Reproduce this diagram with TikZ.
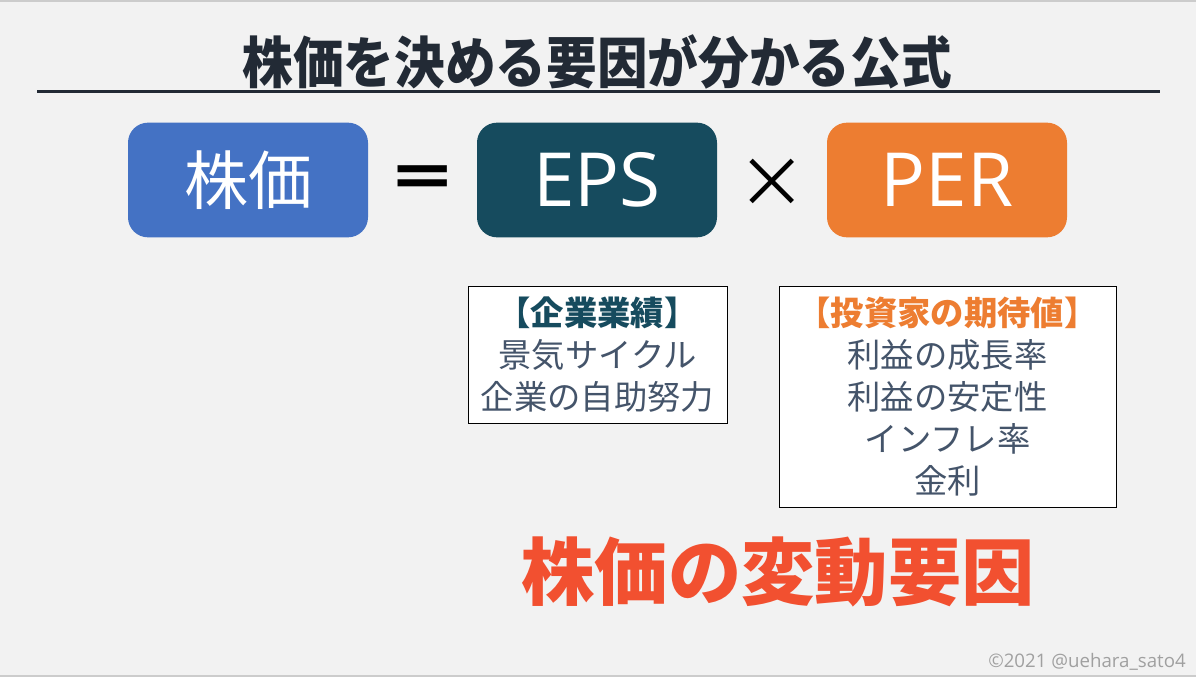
\documentclass[tikz,border=0pt]{standalone}
\usepackage{fontspec}
\setmainfont{Noto Sans CJK JP}
\newfontfamily\latinsans{Open Sans}
\definecolor{bg}{HTML}{F2F2F2}
\definecolor{titlecol}{HTML}{222A35}
\definecolor{kabublue}{HTML}{4472C4}
\definecolor{epsteal}{HTML}{164B5E}
\definecolor{perorange}{HTML}{ED7D31}
\definecolor{bodygray}{HTML}{44546A}
\definecolor{redtext}{HTML}{F25030}
\definecolor{copygray}{HTML}{A0A0A0}
\begin{document}
\begin{tikzpicture}[x=0.75pt,y=-0.75pt,
  bigbox/.style={rounded corners=15pt, minimum width=180pt, minimum height=86pt, inner sep=0pt, text=white},
  infobox/.style={draw=black, line width=0.75pt, fill=white, align=center, inner sep=0pt, text=bodygray, font=\fontsize{25}{31.5}\selectfont},
]
\useasboundingbox (0,0) rectangle (1196,677);
\fill[bg] (0,0) rectangle (1196,677);
\fill[black!20] (0,0) rectangle (1196,2);
\fill[black!20] (0,675) rectangle (1196,677);

\node[text=titlecol, font=\fontsize{38}{40}\bfseries\selectfont] (title) at (597,62) {\scalebox{1}[1.1]{株価を決める要因が分かる公式}};
\coordinate (ruleL) at (37,92);
\coordinate (ruleR) at (1160,92);
\draw[titlecol, line width=2.25pt] (ruleL) -- (ruleR);

\node[bigbox, fill=kabublue, font=\fontsize{48}{50}\selectfont] (kabuka) at (248,180) {株価};
\node[font=\fontsize{44}{46}\bfseries\selectfont] (eq) at (423,183) {\scalebox{1.2}[1]{＝}};
\node[bigbox, fill=epsteal, font=\latinsans\fontsize{56}{58}\selectfont] (eps) at (597,180) {EPS};
\node[font=\fontsize{52}{54}\selectfont] (times) at (772,183) {×};
\node[bigbox, fill=perorange, font=\latinsans\fontsize{56}{58}\selectfont] (per) at (947,180) {PER};

\node[infobox, minimum width=194.25pt, minimum height=102pt] (gyoseki) at (597.5,355)
  {{\bfseries\color{epsteal}【企業業績】}\\景気サイクル\\企業の自助努力};
\node[infobox, minimum width=252.75pt, minimum height=165pt] (kitai) at (947.5,397)
  {{\bfseries\color{perorange}【投資家の期待値】}\\利益の成長率\\利益の安定性\\インフレ率\\金利};

\node[text=redtext, font=\fontsize{55}{57}\bfseries\selectfont] (hendo) at (778,572) {株価の変動要因};

\node[text=copygray, font=\latinsans\fontsize{14}{15}\selectfont] (copy) at (1087,662) {©2021 @uehara\_sato4};
\end{tikzpicture}
\end{document}
